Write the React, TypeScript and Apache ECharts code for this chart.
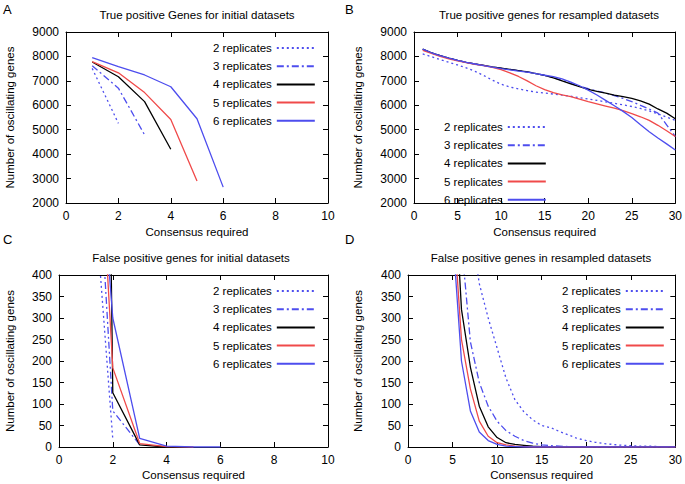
import React, { useEffect, useRef } from "react";
import * as echarts from "echarts";

const FONT = "'Liberation Sans', Arial, Helvetica, sans-serif";
const NAMES = ["2 replicates", "3 replicates", "4 replicates", "5 replicates", "6 replicates"];

// Panel A: true positives, initial datasets
const A_X = [1, 2, 3, 4, 5, 6];
const A2 = [7510, 5260];
const A3 = [7620, 6700, 4790];
const A4 = [7770, 7170, 6150, 4200];
const A5 = [7790, 7330, 6520, 5420, 2900];
const A6 = [7950, 7580, 7240, 6760, 5450, 2650];

// Panel B: true positives, resampled datasets (consensus 1..30)
const B_X = Array.from({ length: 30 }, (_, i) => i + 1);
const B2 = [8100, 7990, 7870, 7760, 7650, 7530, 7390, 7220, 7030, 6860, 6750, 6670, 6600, 6540, 6500, 6460, 6420, 6370, 6310, 6260, 6200, 6140, 6080, 6020, 5950, 5870, 5770, 5650, 5520, 5380];
const B3 = [8290, 8150, 8030, 7930, 7840, 7760, 7690, 7630, 7570, 7520, 7470, 7420, 7370, 7300, 7220, 7130, 7020, 6900, 6780, 6680, 6580, 6500, 6400, 6280, 6150, 6000, 5850, 5680, 5200, 4720];
const B4 = [8300, 8150, 8030, 7930, 7840, 7760, 7690, 7630, 7570, 7520, 7470, 7420, 7370, 7300, 7220, 7120, 7000, 6880, 6760, 6650, 6570, 6500, 6420, 6350, 6280, 6180, 6050, 5850, 5680, 5450];
const B5 = [8250, 8120, 8000, 7900, 7820, 7750, 7680, 7620, 7550, 7460, 7330, 7180, 7000, 6800, 6640, 6520, 6430, 6350, 6250, 6150, 6060, 5970, 5880, 5780, 5660, 5530, 5380, 5180, 4960, 4720];
const B6 = [8300, 8150, 8030, 7930, 7840, 7760, 7690, 7620, 7560, 7500, 7450, 7400, 7360, 7300, 7230, 7170, 7080, 6950, 6800, 6620, 6420, 6200, 5980, 5750, 5500, 5200, 4920, 4660, 4420, 4170];

// Panel C: false positives, initial datasets
const C_X = [1, 2, 3, 4, 5, 6];
const C2 = [850, 18];
const C3 = [1150, 84, 5];
const C4 = [5000, 126, 5, 0];
const C5 = [1300, 184, 8, 1, 0];
const C6 = [1100, 300, 20, 2, 0, 0];

// Panel D: false positives, resampled datasets (consensus 5..30)
const D_X = Array.from({ length: 26 }, (_, i) => i + 5);
const D2 = [900, 680, 520, 380, 300, 230, 160, 110, 82, 63, 50, 45, 36, 28, 20, 15, 11, 8, 6, 4, 3, 2, 2, 1, 1, 1];
const D3 = [800, 476, 245, 150, 95, 60, 38, 25, 15, 9, 5, 3, 2, 1, 1, 0, 0, 0, 0, 0, 0, 0, 0, 0, 0, 0];
const D4 = [700, 320, 186, 95, 47, 22, 10, 6, 4, 2, 1, 0, 0, 0, 0, 0, 0, 0, 0, 0, 0, 0, 0, 0, 0, 0];
const D5 = [560, 250, 135, 60, 25, 10, 5, 2, 1, 0, 0, 0, 0, 0, 0, 0, 0, 0, 0, 0, 0, 0, 0, 0, 0, 0];
const D6 = [500, 200, 84, 35, 15, 6, 2, 1, 0, 0, 0, 0, 0, 0, 0, 0, 0, 0, 0, 0, 0, 0, 0, 0, 0, 0];

const BLUE = "#4d4dee";
const RED = "#f04a4a";
const STYLES = [
  { color: BLUE, type: [2, 3] as any },
  { color: BLUE, type: [7, 3, 2, 3] as any },
  { color: "#000000", type: "solid" as any },
  { color: RED, type: "solid" as any },
  { color: BLUE, type: "solid" as any },
];

const zip = (xs: number[], ys: number[]) => ys.map((y, i) => [xs[i], y]);

export default function App() {
  const ref = useRef<HTMLDivElement>(null);
  useEffect(() => {
    if (!ref.current) return;
    const chart = echarts.init(ref.current, undefined, { renderer: "svg" });

    const grids = [
      { left: 66, top: 32, width: 262, height: 171 },
      { left: 414, top: 32, width: 262, height: 171 },
      { left: 59, top: 275, width: 269, height: 172 },
      { left: 408, top: 275, width: 268, height: 172 },
    ];
    const xCfg = [
      { max: 10, interval: 2, gap: 23 },
      { max: 30, interval: 5, gap: 23 },
      { max: 10, interval: 2, gap: 22 },
      { max: 30, interval: 5, gap: 22 },
    ];
    const yCfg = [
      { min: 2000, max: 9000, interval: 1000, gap: 50 },
      { min: 2000, max: 9000, interval: 1000, gap: 50 },
      { min: 0, max: 400, interval: 50, gap: 43 },
      { min: 0, max: 400, interval: 50, gap: 44 },
    ];
    const tick = { inside: true, length: 5, lineStyle: { color: "#000", width: 1 } };
    const line = { show: true, onZero: false, lineStyle: { color: "#000", width: 1 } };
    const nameStyle = { color: "#000", fontSize: 11.5, fontFamily: FONT };
    const label = { color: "#000", fontSize: 12, margin: 7, fontFamily: FONT, formatter: (v: number) => String(v) };

    const xAxis: any[] = [];
    const yAxis: any[] = [];
    xCfg.forEach((c, i) => {
      xAxis.push({
        type: "value", gridIndex: i, min: 0, max: c.max, interval: c.interval, position: "bottom",
        axisLine: line, axisTick: tick, splitLine: { show: false }, axisLabel: label,
        name: "Consensus required", nameLocation: "middle", nameGap: c.gap, nameTextStyle: nameStyle,
      });
    });
    xCfg.forEach((c, i) => {
      xAxis.push({
        type: "value", gridIndex: i, min: 0, max: c.max, interval: c.interval, position: "top",
        axisLine: line, axisTick: tick, splitLine: { show: false }, axisLabel: { show: false },
      });
    });
    yCfg.forEach((c, i) => {
      yAxis.push({
        type: "value", gridIndex: i, min: c.min, max: c.max, interval: c.interval, position: "left",
        axisLine: line, axisTick: tick, splitLine: { show: false }, axisLabel: label,
        name: "Number of oscillating genes", nameLocation: "middle", nameGap: c.gap, nameTextStyle: nameStyle,
      });
    });
    yCfg.forEach((c, i) => {
      yAxis.push({
        type: "value", gridIndex: i, min: c.min, max: c.max, interval: c.interval, position: "right",
        axisLine: line, axisTick: tick, splitLine: { show: false }, axisLabel: { show: false },
      });
    });

    const panels = [
      { xs: A_X, ys: [A2, A3, A4, A5, A6] },
      { xs: B_X, ys: [B2, B3, B4, B5, B6] },
      { xs: C_X, ys: [C2, C3, C4, C5, C6] },
      { xs: D_X, ys: [D2, D3, D4, D5, D6] },
    ];
    const series: any[] = [];
    panels.forEach((p, gi) => {
      p.ys.forEach((ys, si) => {
        series.push({
          type: "line", name: NAMES[si], xAxisIndex: gi, yAxisIndex: gi,
          data: zip(p.xs, ys), symbol: "none", showSymbol: false, clip: true,
          lineStyle: { color: STYLES[si].color, type: STYLES[si].type, width: 1.3 },
          itemStyle: { color: STYLES[si].color },
        });
      });
    });

    const legendPos = [
      { left: 213, top: 42 },
      { left: 444, top: 121 },
      { left: 213, top: 285 },
      { left: 562, top: 285 },
    ];
    const legend = legendPos.map((p) => ({
      ...p, orient: "vertical", align: "right", itemWidth: 38, itemHeight: 10, itemGap: 6.2,
      selectedMode: false, data: NAMES, padding: 0,
      itemStyle: { opacity: 0 },
      textStyle: { color: "#000", fontSize: 11.5, fontFamily: FONT },
    }));

    const txt = (text: string, x: number, y: number, size: number, align = "center") => ({
      type: "text", x, y,
      style: { text, fill: "#000", font: `${size}px ${FONT}`, textAlign: align, textVerticalAlign: "middle" },
    });

    chart.setOption({
      animation: false,
      backgroundColor: "#fff",
      grid: grids,
      xAxis, yAxis, series, legend,
      graphic: [
        txt("A", 3, 9, 13, "left"),
        txt("B", 345, 9, 13, "left"),
        txt("C", 3, 239, 13, "left"),
        txt("D", 345, 239, 13, "left"),
        txt("True positive Genes for initial datasets", 197, 15, 11.5),
        txt("True positive genes for resampled datasets", 549, 15, 11.5),
        txt("False positive genes for initial datasets", 191, 258, 11.5),
        txt("False positive genes in resampled datasets", 541, 258, 11.5),
      ],
    });
    return () => chart.dispose();
  }, []);
  return <div ref={ref} style={{ position: "absolute", left: 0, top: 0, width: 685, height: 484 }} />;
}
